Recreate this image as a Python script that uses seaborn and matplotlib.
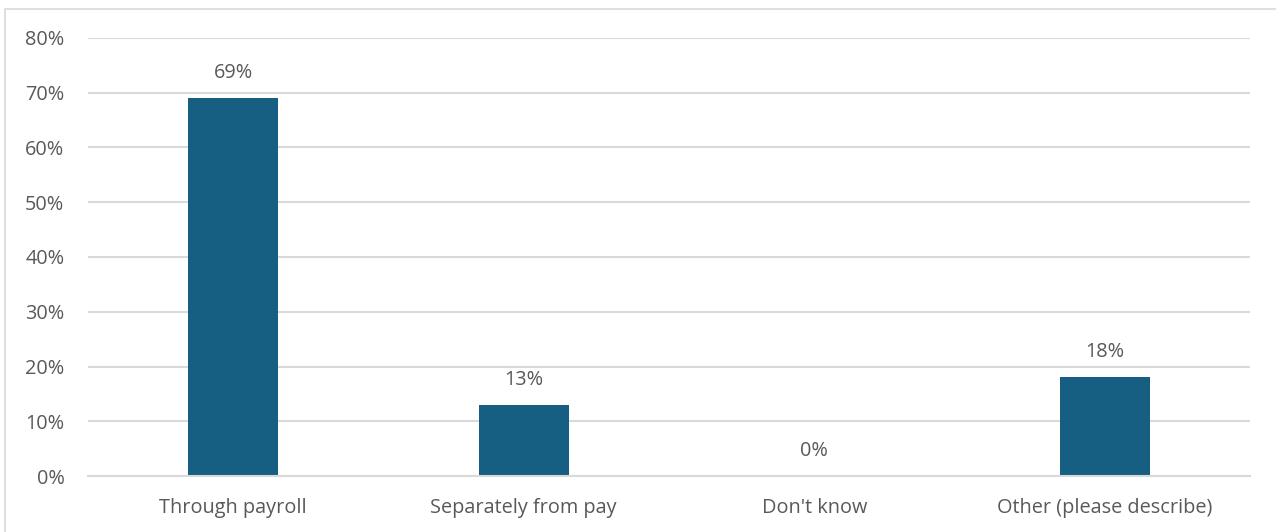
import matplotlib
matplotlib.use("Agg")
import matplotlib.pyplot as plt
import seaborn as sns
import pandas as pd
from matplotlib.patches import Rectangle

categories = ["Through payroll", "Separately from pay", "Don't know", "Other (please describe)"]
shares = [69, 13, 0, 18]
y_ticks = [0, 10, 20, 30, 40, 50, 60, 70, 80]
y_tick_labels = [f"{t}%" for t in y_ticks]

bar_color = "#175F82"
text_color = "#595959"
grid_color = "#D9D9D9"

sns.set_theme(style="white")
plt.rcParams["font.family"] = ["Open Sans", "DejaVu Sans"]

df = pd.DataFrame({"category": categories, "share": shares})

fig = plt.figure(figsize=(12.76, 5.32), dpi=100)
ax = fig.add_axes([88 / 1276, 1 - 476 / 532, (1250 - 88) / 1276, (476 - 38) / 532])

sns.barplot(data=df, x="category", y="share", color=bar_color, width=0.31,
            saturation=1, linewidth=0, ax=ax, zorder=3)

ax.set_ylim(0, 80)
ax.set_xlim(-0.5, len(categories) - 0.5)
ax.set_yticks(y_ticks)
ax.set_yticklabels(y_tick_labels)
ax.yaxis.grid(True, color=grid_color, linewidth=1.5, zorder=0)
ax.set_axisbelow(True)
for side in ["top", "right", "left"]:
    ax.spines[side].set_visible(False)
ax.spines["bottom"].set_color(grid_color)
ax.spines["bottom"].set_linewidth(1.5)
ax.spines["bottom"].set_zorder(4)
ax.tick_params(axis="both", length=0, labelsize=14.3, colors=text_color)
ax.tick_params(axis="x", pad=16)
ax.tick_params(axis="y", pad=17)
ax.set_xlabel("")
ax.set_ylabel("")

for i, v in enumerate(shares):
    ax.annotate(f"{v}%", (i, v), xytext=(0, 11), textcoords="offset points",
                ha="center", va="bottom", fontsize=14.3, color=text_color)

# light frame around the chart area
fig.patches.append(Rectangle((5 / 1276, -0.1), 1.2, 1 - 9 / 532 + 0.1,
                             transform=fig.transFigure, fill=False,
                             edgecolor=grid_color, linewidth=1.2))

fig.savefig("out.png", dpi=100, facecolor="white")
